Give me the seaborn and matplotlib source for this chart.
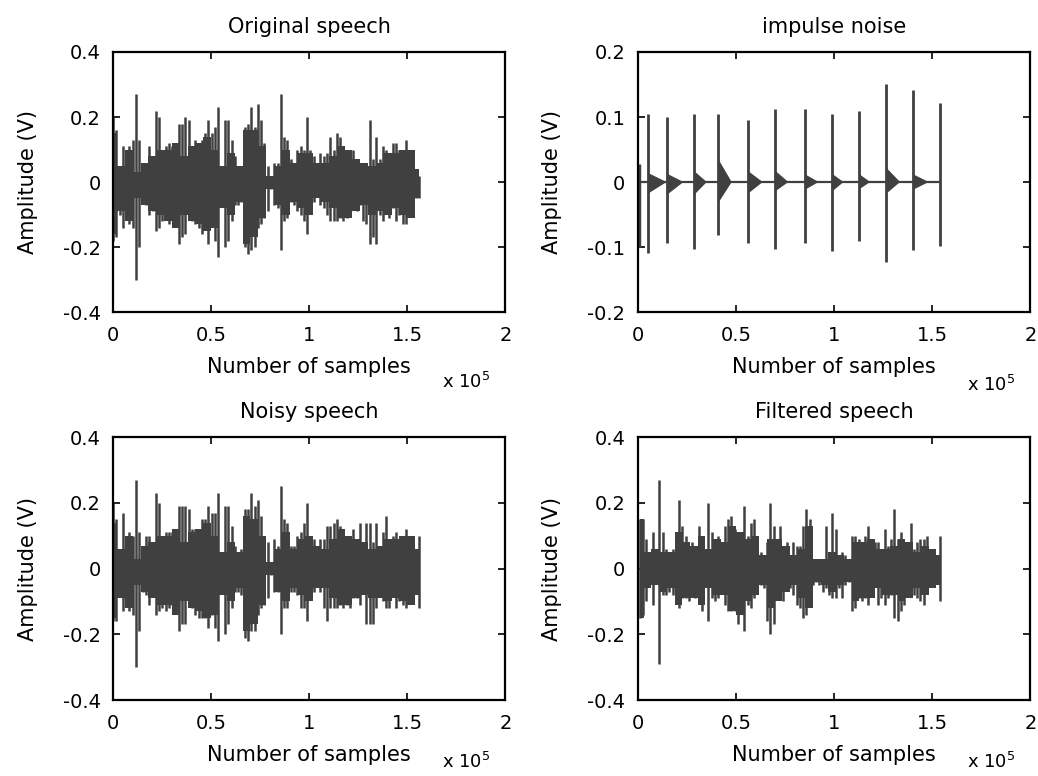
import numpy as np
import matplotlib
matplotlib.use("Agg")
import matplotlib.pyplot as plt
import seaborn as sns

sns.set_style("white")
plt.rcParams['font.family'] = ['DejaVu Sans']

# ---------------- data (x in units of 1e5 samples, amplitude in V) ----------------
# peaks (spikes) of each waveform, evenly spread over the recording
orig_end = 1.56
orig_top = [0.20, 0.16, 0.05, 0.11, 0.03, 0.11, 0.13, 0.27, 0.13, 0.02, 0.06, 0.11, 0.08, 0.22, 0.20, 0.02,
            0.11, 0.12, 0.11, 0.10, 0.18, 0.18, 0.20, 0.19, 0.07, 0.13, 0.12, 0.13, 0.15, 0.19, 0.15, 0.17,
            0.23, 0.03, 0.19, 0.19, 0.13, 0.08, 0.05, 0.04, 0.17, 0.18, 0.23, 0.17, 0.24, 0.19, 0.12, 0.05,
            0.02, 0.06, 0.06, 0.27, 0.14, 0.13, 0.07, 0.05, 0.10, 0.11, 0.10, 0.20, 0.10, 0.08, 0.03, 0.09,
            0.08, 0.09, 0.14, 0.10, 0.15, 0.14, 0.11, 0.10, 0.08, 0.10, 0.07, 0.06, 0.06, 0.06, 0.19, 0.07,
            0.14, 0.07, 0.11, 0.10, 0.09, 0.12, 0.12, 0.10, 0.10, 0.13, 0.04, 0.03, 0.03, 0.02]
orig_bot = [-0.18, -0.17, -0.10, -0.14, -0.04, -0.13, -0.14, -0.30, -0.20, -0.03, -0.07, -0.10, -0.09, -0.15, -0.14, -0.12,
            -0.10, -0.13, -0.11, -0.12, -0.19, -0.17, -0.16, -0.08, -0.12, -0.13, -0.14, -0.16, -0.14, -0.19, -0.13, -0.18,
            -0.23, -0.04, -0.20, -0.18, -0.12, -0.07, -0.07, -0.06, -0.20, -0.22, -0.21, -0.20, -0.14, -0.13, -0.11, -0.09,
            -0.02, -0.07, -0.08, -0.21, -0.12, -0.11, -0.06, -0.07, -0.09, -0.10, -0.12, -0.16, -0.07, -0.06, -0.04, -0.07,
            -0.08, -0.10, -0.12, -0.12, -0.12, -0.11, -0.12, -0.11, -0.10, -0.08, -0.09, -0.07, -0.12, -0.13, -0.19, -0.17,
            -0.19, -0.10, -0.12, -0.09, -0.11, -0.08, -0.12, -0.10, -0.13, -0.13, -0.04, -0.05, -0.05, -0.05]
# dense body (solid core) of the waveform, coarser resolution
orig_body_top = [0.15, 0.05, 0.10, 0.03, 0.06, 0.08, 0.10, 0.10, 0.12, 0.08, 0.11, 0.12, 0.14, 0.10, 0.05, 0.09,
                 0.05, 0.16, 0.16, 0.11, 0.02, 0.05, 0.10, 0.06, 0.09, 0.09, 0.06, 0.06, 0.08, 0.11, 0.10, 0.07,
                 0.06, 0.05, 0.06, 0.09, 0.09, 0.10, 0.10, 0.04]
orig_body_bot = [-0.16, -0.09, -0.12, -0.05, -0.07, -0.09, -0.10, -0.12, -0.14, -0.10, -0.12, -0.13, -0.15, -0.14, -0.08, -0.10,
                 -0.06, -0.19, -0.17, -0.11, -0.02, -0.07, -0.10, -0.06, -0.08, -0.10, -0.05, -0.06, -0.08, -0.11, -0.11, -0.09,
                 -0.07, -0.10, -0.09, -0.10, -0.08, -0.10, -0.11, -0.05]

noisy_end = 1.56
noisy_top = [0.20, 0.15, 0.05, 0.17, 0.02, 0.11, 0.10, 0.27, 0.11, 0.02, 0.10, 0.10, 0.08, 0.23, 0.20, 0.01,
             0.11, 0.11, 0.11, 0.10, 0.19, 0.19, 0.19, 0.18, 0.12, 0.12, 0.12, 0.15, 0.15, 0.19, 0.17, 0.17,
             0.23, 0.03, 0.19, 0.19, 0.13, 0.07, 0.05, 0.06, 0.18, 0.18, 0.23, 0.19, 0.21, 0.16, 0.10, 0.08,
             0.01, 0.09, 0.07, 0.25, 0.15, 0.14, 0.07, 0.07, 0.10, 0.11, 0.14, 0.20, 0.10, 0.09, 0.03, 0.09,
             0.09, 0.13, 0.13, 0.14, 0.15, 0.13, 0.10, 0.10, 0.09, 0.12, 0.09, 0.14, 0.06, 0.14, 0.14, 0.08,
             0.14, 0.05, 0.11, 0.16, 0.08, 0.10, 0.11, 0.09, 0.10, 0.12, 0.04, 0.03, 0.05, 0.10]
noisy_bot = [-0.16, -0.16, -0.07, -0.13, -0.03, -0.13, -0.14, -0.30, -0.19, -0.07, -0.08, -0.11, -0.08, -0.14, -0.13, -0.12,
             -0.13, -0.12, -0.11, -0.13, -0.19, -0.17, -0.17, -0.11, -0.12, -0.14, -0.15, -0.15, -0.15, -0.18, -0.14, -0.18,
             -0.22, -0.04, -0.20, -0.17, -0.12, -0.07, -0.07, -0.08, -0.21, -0.22, -0.19, -0.19, -0.14, -0.12, -0.11, -0.09,
             -0.02, -0.07, -0.07, -0.20, -0.12, -0.12, -0.07, -0.07, -0.08, -0.12, -0.12, -0.16, -0.08, -0.07, -0.05, -0.07,
             -0.12, -0.16, -0.12, -0.12, -0.12, -0.11, -0.12, -0.11, -0.12, -0.09, -0.09, -0.11, -0.07, -0.17, -0.17, -0.17,
             -0.12, -0.07, -0.10, -0.12, -0.12, -0.08, -0.12, -0.10, -0.11, -0.12, -0.05, -0.06, -0.07, -0.12]
noisy_body_top = [0.14, 0.06, 0.10, 0.03, 0.07, 0.08, 0.10, 0.10, 0.12, 0.08, 0.11, 0.12, 0.14, 0.10, 0.05, 0.08,
                  0.05, 0.16, 0.15, 0.10, 0.02, 0.06, 0.11, 0.06, 0.09, 0.10, 0.07, 0.06, 0.09, 0.12, 0.10, 0.09,
                  0.08, 0.06, 0.07, 0.09, 0.09, 0.10, 0.10, 0.06]
noisy_body_bot = [-0.15, -0.09, -0.12, -0.05, -0.07, -0.09, -0.11, -0.11, -0.14, -0.10, -0.12, -0.13, -0.15, -0.14, -0.08, -0.10,
                  -0.06, -0.19, -0.17, -0.11, -0.02, -0.07, -0.10, -0.06, -0.08, -0.10, -0.06, -0.06, -0.09, -0.11, -0.11, -0.09,
                  -0.08, -0.09, -0.09, -0.10, -0.09, -0.10, -0.11, -0.08]

filt_start, filt_end = 0.01, 1.54
filt_top = [0.15, 0.15, 0.09, 0.03, 0.11, 0.05, 0.27, 0.11, 0.06, 0.05, 0.06, 0.03, 0.21, 0.13, 0.10, 0.07,
            0.08, 0.06, 0.13, 0.10, 0.06, 0.20, 0.11, 0.08, 0.10, 0.05, 0.13, 0.15, 0.16, 0.12, 0.10, 0.07,
            0.19, 0.10, 0.14, 0.15, 0.07, 0.05, 0.02, 0.08, 0.20, 0.13, 0.09, 0.13, 0.07, 0.08, 0.04, 0.08,
            0.07, 0.07, 0.13, 0.18, 0.15, 0.03, 0.03, 0.03, 0.03, 0.13, 0.05, 0.17, 0.12, 0.03, 0.05, 0.04,
            0.03, 0.10, 0.10, 0.09, 0.08, 0.10, 0.13, 0.07, 0.08, 0.08, 0.06, 0.12, 0.07, 0.09, 0.18, 0.09,
            0.11, 0.08, 0.06, 0.14, 0.06, 0.08, 0.09, 0.09, 0.10, 0.05, 0.04, 0.03, 0.10]
filt_bot = [-0.15, -0.14, -0.10, -0.04, -0.11, -0.02, -0.29, -0.08, -0.08, -0.07, -0.08, -0.06, -0.12, -0.09, -0.09, -0.10,
            -0.08, -0.09, -0.10, -0.13, -0.04, -0.16, -0.09, -0.10, -0.09, -0.03, -0.11, -0.13, -0.13, -0.13, -0.17, -0.13,
            -0.19, -0.11, -0.12, -0.09, -0.06, -0.05, -0.06, -0.16, -0.20, -0.17, -0.09, -0.07, -0.10, -0.05, -0.06, -0.08,
            -0.11, -0.12, -0.15, -0.14, -0.09, -0.05, -0.04, -0.05, -0.07, -0.06, -0.08, -0.09, -0.09, -0.06, -0.09, -0.05,
            -0.04, -0.13, -0.12, -0.09, -0.10, -0.09, -0.11, -0.06, -0.05, -0.11, -0.09, -0.11, -0.09, -0.08, -0.15, -0.16,
            -0.13, -0.11, -0.06, -0.07, -0.08, -0.09, -0.10, -0.11, -0.07, -0.05, -0.05, -0.04, -0.10]
filt_body_top = [0.15, 0.05, 0.06, 0.05, 0.05, 0.11, 0.08, 0.07, 0.10, 0.06, 0.09, 0.08, 0.13, 0.11, 0.09, 0.10,
                 0.04, 0.09, 0.09, 0.07, 0.04, 0.06, 0.13, 0.03, 0.03, 0.05, 0.04, 0.03, 0.08, 0.08, 0.09, 0.06,
                 0.06, 0.07, 0.09, 0.08, 0.05, 0.07, 0.06, 0.04]
filt_body_bot = [-0.15, -0.06, -0.05, -0.07, -0.06, -0.11, -0.09, -0.09, -0.11, -0.06, -0.08, -0.08, -0.13, -0.14, -0.10, -0.08,
                 -0.05, -0.12, -0.10, -0.07, -0.05, -0.09, -0.12, -0.04, -0.05, -0.07, -0.05, -0.04, -0.10, -0.09, -0.09, -0.06,
                 -0.08, -0.08, -0.10, -0.09, -0.06, -0.08, -0.06, -0.05]

# impulse noise: impulse positions, peaks, and small decaying tails after each impulse
imp_x   = [0.051, 0.147, 0.286, 0.408, 0.561, 0.697, 0.851, 0.988, 1.129, 1.266, 1.402, 1.542]
imp_top = [0.105, 0.100, 0.105, 0.105, 0.096, 0.113, 0.113, 0.105, 0.109, 0.151, 0.142, 0.122]
imp_bot = [-0.109, -0.094, -0.103, -0.081, -0.094, -0.103, -0.094, -0.106, -0.090, -0.123, -0.105, -0.098]
tail_top = [0.014, 0.013, 0.017, 0.036, 0.017, 0.018, 0.012, 0.013, 0.012, 0.022, 0.012, 0.0]
tail_bot = [-0.018, -0.020, -0.020, -0.033, -0.018, -0.015, -0.012, -0.015, -0.011, -0.018, -0.012, 0.0]
tail_len = [0.095, 0.085, 0.065, 0.070, 0.075, 0.070, 0.070, 0.060, 0.055, 0.070, 0.080, 0.0]
start_top, start_bot = 0.027, -0.100

titles = ["Original speech", "impulse noise", "Noisy speech", "Filtered speech"]
xticks = [0, 0.5, 1, 1.5, 2]
xtick_labels = ["0", "0.5", "1", "1.5", "2"]
yticks_speech = [-0.4, -0.2, 0, 0.2, 0.4]
yticks_noise = [-0.2, -0.1, 0, 0.1, 0.2]

WAVE = "#404040"
FS_TICK = 14
FS_LAB = 15

fig = plt.figure(figsize=(10.38, 7.76), dpi=100)
fig.patch.set_facecolor("white")

w = 0.378
positions = [
    [0.1089, 0.5979, w, 0.3351],
    [0.6146, 0.5979, w, 0.3351],
    [0.1089, 0.0979, w, 0.3389],
    [0.6146, 0.0979, w, 0.3389],
]
axes = [fig.add_axes(p) for p in positions]


def style(ax, title, yticks, off_y):
    ax.set_xlim(0, 2)
    ax.set_ylim(yticks[0], yticks[-1])
    ax.set_xticks(xticks)
    ax.set_xticklabels(xtick_labels, fontsize=FS_TICK)
    ax.set_yticks(yticks)
    ax.set_yticklabels(["%g" % v for v in yticks], fontsize=FS_TICK)
    ax.tick_params(direction="in", length=5, width=1.2, top=True, right=True,
                   bottom=True, left=True, colors="black")
    ax.tick_params(axis="x", pad=10)
    ax.tick_params(axis="y", pad=9)
    for sp in ax.spines.values():
        sp.set_visible(True)
        sp.set_color("black")
        sp.set_linewidth(1.6)
    ax.set_title(title, fontsize=FS_LAB, pad=14, color="black")
    ax.set_xlabel("Number of samples", fontsize=FS_LAB, labelpad=9, color="black")
    ax.set_ylabel("Amplitude (V)", fontsize=FS_LAB, labelpad=18, color="black")
    ax.text(0.90, off_y, r"x 10$^5$", transform=ax.transAxes, fontsize=FS_TICK - 1,
            ha="center", va="center", color="black")
    ax.set_facecolor("white")


def speech(ax, start, end, top, bot, body_top, body_bot):
    xb = np.linspace(start, end, len(body_top))
    ax.fill_between(xb, body_bot, body_top, step="mid", color=WAVE, linewidth=0)
    xs = np.linspace(start, end, len(top))
    ax.vlines(xs, bot, top, color=WAVE, linewidth=1.8)


speech(axes[0], 0.0, orig_end, orig_top, orig_bot, orig_body_top, orig_body_bot)
style(axes[0], titles[0], yticks_speech, -0.27)

speech(axes[2], 0.0, noisy_end, noisy_top, noisy_bot, noisy_body_top, noisy_body_bot)
style(axes[2], titles[2], yticks_speech, -0.235)

speech(axes[3], filt_start, filt_end, filt_top, filt_bot, filt_body_top, filt_body_bot)
style(axes[3], titles[3], yticks_speech, -0.235)

# impulse noise panel
ax = axes[1]
sns.lineplot(x=[0.0, imp_x[-1]], y=[0.0, 0.0], ax=ax, color=WAVE, linewidth=1.6)
ax.vlines([0.004], [start_bot], [start_top], color=WAVE, linewidth=2.5)
ax.vlines(imp_x, imp_bot, imp_top, color=WAVE, linewidth=2.0)
for xi, tt, tb, tl in zip(imp_x, tail_top, tail_bot, tail_len):
    if tl > 0:
        ax.fill([xi, xi + tl, xi], [tt, 0.0, tb], color=WAVE, linewidth=0)
style(ax, titles[1], yticks_noise, -0.28)

fig.savefig("out.png", dpi=100, facecolor="white")
